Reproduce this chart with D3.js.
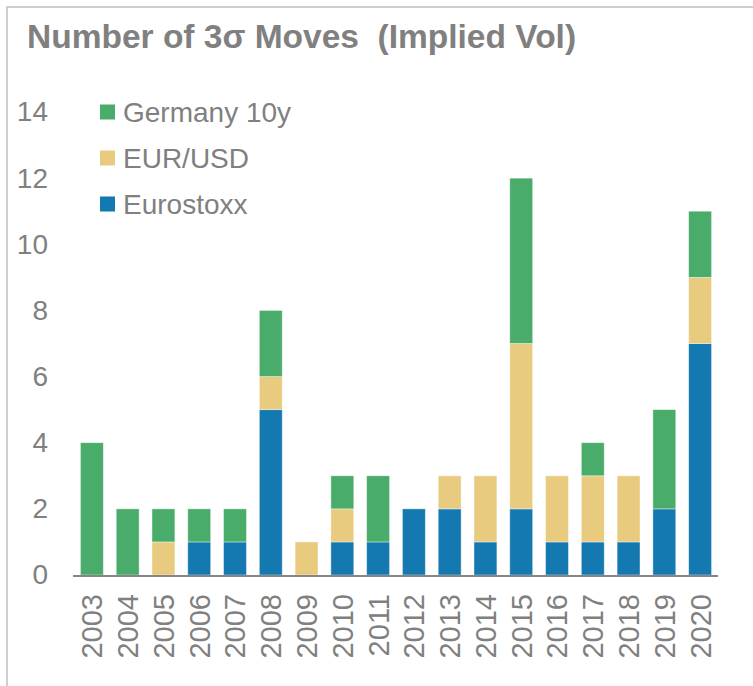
<!DOCTYPE html>
<html><head><meta charset="utf-8">
<script src="https://cdn.jsdelivr.net/npm/d3@7"></script>
<style>body{margin:0;background:#fff}svg{display:block}</style>
</head><body>
<svg id="c" width="753" height="686"></svg>
<script>
const years = ["2003","2004","2005","2006","2007","2008","2009","2010","2011","2012","2013","2014","2015","2016","2017","2018","2019","2020"];
const eurostoxx = [0,0,0,1,1,5,0,1,1,2,2,1,2,1,1,1,2,7];
const eurusd    = [0,0,1,0,0,1,1,1,0,0,1,2,5,2,2,2,0,2];
const germany   = [4,2,1,1,1,2,0,1,2,0,0,0,5,0,1,0,3,2];
const seriesNames = ["Eurostoxx","EUR/USD","Germany 10y"];
const colors = ["#1479b0","#e9cb80","#4aac6a"];
const yTicks = [0,2,4,6,8,10,12,14];

const svg = d3.select("#c");
const font = "Liberation Sans, Arial, sans-serif";
const gray = "#808080";

svg.append("rect").attr("x",7).attr("y",7).attr("width",760).attr("height",700)
  .attr("fill","none").attr("stroke","#bfbfbf").attr("stroke-width",1.5);

svg.append("text").attr("x",27).attr("y",48).attr("font-family",font)
  .attr("font-weight","bold").attr("font-size",33.5).attr("fill",gray)
  .attr("xml:space","preserve").text("Number of 3σ Moves  (Implied Vol)");

const x = d3.scaleBand().domain(years).range([74,718]).paddingInner(0.36).paddingOuter(0.18);
const y = d3.scaleLinear().domain([0,14]).range([575,112]);

const data = years.map((yr,i)=>({year:yr,"Eurostoxx":eurostoxx[i],"EUR/USD":eurusd[i],"Germany 10y":germany[i]}));
const stack = d3.stack().keys(seriesNames)(data);

svg.append("g").selectAll("g").data(stack).join("g")
  .attr("fill",(d,i)=>colors[i])
  .selectAll("rect").data(d=>d.filter(p=>p[1]-p[0]>0)).join("rect")
  .attr("x",d=>x(d.data.year)).attr("width",x.bandwidth())
  .attr("y",d=>y(d[1])).attr("height",d=>y(d[0])-y(d[1]))
  .attr("stroke","#fff").attr("stroke-opacity",0.5).attr("stroke-width",0.8);

// y axis labels
const ya = svg.append("g").attr("transform","translate(48,0)")
  .call(d3.axisLeft(y).tickValues(yTicks).tickSize(0).tickPadding(0));
ya.select(".domain").remove();
ya.selectAll("text").attr("font-family",font).attr("font-size",28).attr("fill",gray);

// x axis
const xa = svg.append("g").attr("transform","translate(0,575)")
  .call(d3.axisBottom(x).tickSize(0).tickPadding(0));
xa.select(".domain").remove();
xa.selectAll("text").attr("font-family",font).attr("font-size",29).attr("fill",gray)
  .attr("transform","rotate(-90)").attr("text-anchor","end")
  .attr("x",-19).attr("y",0).attr("dy","0.36em");
svg.append("line").attr("x1",73).attr("x2",718).attr("y1",y(0)+1).attr("y2",y(0)+1)
  .attr("stroke","#868686").attr("stroke-width",2);

// legend
const legendOrder = [2,1,0];
const lg = svg.append("g");
legendOrder.forEach((si,k)=>{
  const cy = 112 + k*46;
  lg.append("rect").attr("x",100).attr("y",cy-7.5).attr("width",15).attr("height",15).attr("fill",colors[si]);
  lg.append("text").attr("x",123).attr("y",cy).attr("dy","0.36em").attr("font-family",font)
    .attr("font-size",28).attr("fill",gray).text(seriesNames[si]);
});
</script>
</body></html>
